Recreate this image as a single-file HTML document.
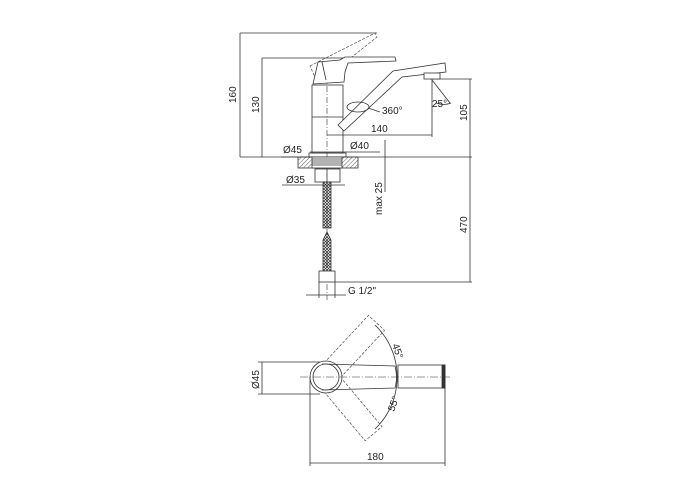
<!DOCTYPE html>
<html><head><style>body{margin:0;background:#fff}svg{display:block}text{font-family:"Liberation Sans",sans-serif;font-size:10px;fill:#222}</style></head><body>
<svg width="700" height="500" viewBox="0 0 700 500" xmlns="http://www.w3.org/2000/svg">
<defs>
<pattern id="h" width="3" height="3" patternUnits="userSpaceOnUse" patternTransform="rotate(45)"><line x1="0" y1="0" x2="0" y2="3" stroke="#333" stroke-width="0.8"/></pattern>
<pattern id="x" width="3" height="3" patternUnits="userSpaceOnUse"><path d="M0 0L3 3M3 0L0 3" stroke="#333" stroke-width="0.7"/></pattern>
</defs>
<g stroke="#333" stroke-width="0.8" fill="none">
<line x1="240" y1="33" x2="377" y2="33"/>
<line x1="240" y1="33" x2="240" y2="157"/>
<line x1="262" y1="58" x2="395" y2="58"/>
<line x1="262" y1="58" x2="262" y2="157"/>
<line x1="240" y1="157" x2="472" y2="157"/>
<line x1="470" y1="79" x2="470" y2="282"/>
<line x1="430" y1="79" x2="472" y2="79"/>
<line x1="432" y1="79" x2="432" y2="137"/>
<line x1="327" y1="135" x2="432" y2="135"/>
<line x1="385" y1="140" x2="385" y2="192"/>
<line x1="335" y1="282" x2="472" y2="282"/>
<line x1="281" y1="157" x2="345" y2="157"/>
<line x1="310" y1="152" x2="380" y2="152"/>
<line x1="282" y1="185" x2="345" y2="185"/>
<line x1="306" y1="295" x2="346" y2="295"/>
<line x1="319" y1="282" x2="319" y2="298"/>
<line x1="335" y1="282" x2="335" y2="298"/>
<path d="M310 66 L375 33 L377 37 L318 84 Z" stroke-dasharray="3 1.5" stroke-width="0.6"/>
<rect x="312" y="85" width="31" height="68"/>
<line x1="312" y1="117" x2="343" y2="117"/>
<rect x="309" y="153" width="37" height="4"/>
<line x1="327" y1="75" x2="327" y2="300" stroke-dasharray="6 2 1 2" stroke-width="0.6"/>
<path d="M313 84 L318 62 L340 60 L345 57 L395 57 L396 61 L348 63 L345 72 L344 82 Z" fill="#fff"/>
<path d="M322 62 L326 80" />
<path d="M338 125 L393 71 L445 63 L446 72 L402 77 L344 131 Z" fill="#fff"/>
<rect x="424" y="73" width="16" height="6" fill="#fff"/>
<ellipse cx="358" cy="107" rx="11" ry="5"/>
<line x1="368" y1="108" x2="380" y2="112"/>
<line x1="432" y1="80" x2="450" y2="103"/>
<path d="M436 103 Q444 106 451 103"/>
<rect x="298" y="157" width="60" height="11" fill="url(#h)"/>
<rect x="312" y="157" width="30" height="11" fill="#fff"/>
<path d="M312 159H342M312 161H342M312 163H342M312 165H342"/>
<rect x="315" y="169" width="25" height="13" fill="#fff"/>
<line x1="327" y1="169" x2="327" y2="182"/>
<rect x="323" y="182" width="8" height="46" fill="url(#x)"/>
<path d="M323 240 L327 232 L331 240 L331 271 L323 271 Z" fill="url(#x)"/>
<rect x="319" y="271" width="16" height="11" fill="#fff"/>
<!-- top view -->
<line x1="262" y1="362" x2="262" y2="394"/>
<line x1="258" y1="362" x2="320" y2="362"/>
<line x1="258" y1="394" x2="320" y2="394"/>
<line x1="310" y1="377" x2="310" y2="466"/>
<line x1="445" y1="388" x2="445" y2="466"/>
<line x1="310" y1="463" x2="445" y2="463"/>
<g stroke-width="0.6" stroke-dasharray="3 1.5">
<rect x="326" y="366" width="74" height="22" transform="rotate(-47 326 377)"/>
<rect x="326" y="366" width="74" height="22" transform="rotate(50 326 377)"/>
</g>
<circle cx="326" cy="377" r="16" fill="#fff"/>
<circle cx="326" cy="377" r="13"/>
<path d="M322 364 L395 366 Q398 377 395 388 L322 390" fill="none"/>
<rect x="398" y="365" width="47" height="23" fill="#fff"/>
<rect x="442" y="365" width="3" height="23" fill="#333"/>
<line x1="300" y1="377" x2="450" y2="377" stroke-dasharray="8 2 1 2" stroke-width="0.6"/>
<path d="M375 325 A72 72 0 0 1 375 429"/>
</g>
<g>
<text x="0" y="0" transform="translate(236,103) rotate(-90)">160</text>
<text x="0" y="0" transform="translate(259,113) rotate(-90)">130</text>
<text x="0" y="0" transform="translate(467,121) rotate(-90)">105</text>
<text x="0" y="0" transform="translate(467,233) rotate(-90)">470</text>
<text x="0" y="0" transform="translate(382,215) rotate(-90)">max 25</text>
<text x="0" y="0" transform="translate(259,389) rotate(-90)">Ø45</text>
<text x="382" y="114">360°</text>
<text x="371" y="132">140</text>
<text x="432" y="107">25°</text>
<text x="283" y="153">Ø45</text>
<text x="350" y="149">Ø40</text>
<text x="286" y="183">Ø35</text>
<text x="348" y="294">G 1/2"</text>
<text x="367" y="460">180</text>
<text x="0" y="0" transform="translate(392,345) rotate(70)">45°</text>
<text x="0" y="0" transform="translate(394,412) rotate(-70)">55°</text>
</g>
</svg>
</body></html>
